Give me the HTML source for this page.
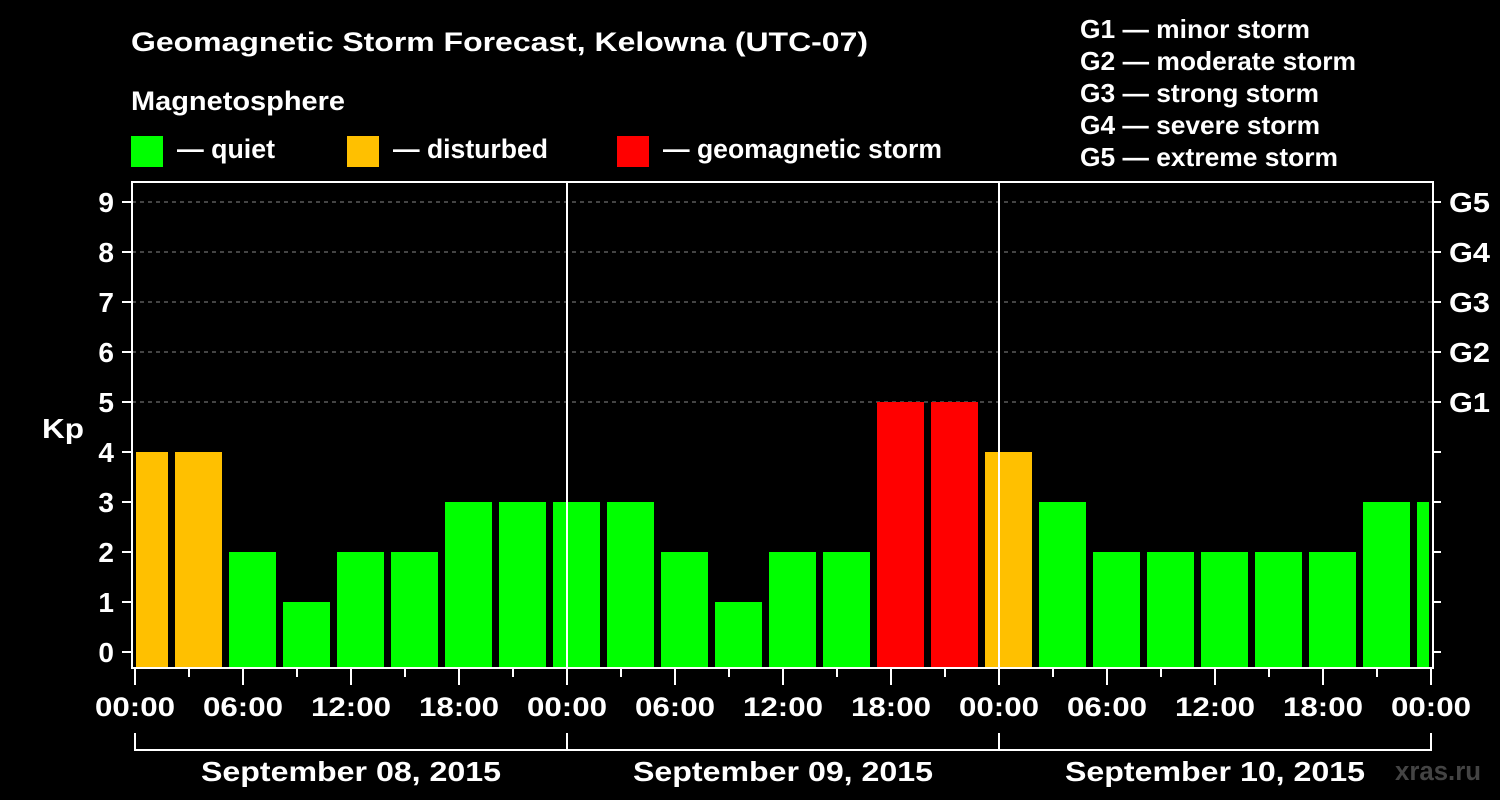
<!DOCTYPE html>
<html><head><meta charset="utf-8"><style>
body{margin:0;background:#000;width:1500px;height:800px;overflow:hidden}
svg{display:block;font-family:"Liberation Sans",sans-serif;font-weight:bold;fill:#fff}
</style></head><body>
<svg id="c" width="1500" height="800">
<text x="131" y="51" font-size="27" textLength="737" lengthAdjust="spacingAndGlyphs">Geomagnetic Storm Forecast, Kelowna (UTC-07)</text>
<text x="131" y="110" font-size="27" textLength="214" lengthAdjust="spacingAndGlyphs">Magnetosphere</text>
<g><rect x="131" y="136" width="32" height="31" fill="#00ff00"/><text x="177" y="158" font-size="27" textLength="98" lengthAdjust="spacingAndGlyphs">— quiet</text></g>
<g><rect x="347" y="136" width="32" height="31" fill="#ffc000"/><text x="393" y="158" font-size="27" textLength="155" lengthAdjust="spacingAndGlyphs">— disturbed</text></g>
<g><rect x="617" y="136" width="32" height="31" fill="#ff0000"/><text x="663" y="158" font-size="27" textLength="279" lengthAdjust="spacingAndGlyphs">— geomagnetic storm</text></g>
<g font-size="26">
<text x="1080" y="38" textLength="230" lengthAdjust="spacingAndGlyphs">G1 — minor storm</text><text x="1080" y="70" textLength="276" lengthAdjust="spacingAndGlyphs">G2 — moderate storm</text><text x="1080" y="102" textLength="239" lengthAdjust="spacingAndGlyphs">G3 — strong storm</text><text x="1080" y="134" textLength="240" lengthAdjust="spacingAndGlyphs">G4 — severe storm</text><text x="1080" y="166" textLength="258" lengthAdjust="spacingAndGlyphs">G5 — extreme storm</text></g>
<text x="42" y="438" font-size="28" textLength="42" lengthAdjust="spacingAndGlyphs">Kp</text>
<g id="grid"></g><g id="bars"></g><g id="axes"></g>
<text x="1395" y="780" font-size="27" textLength="86" lengthAdjust="spacingAndGlyphs" style="fill:#444">xras.ru</text>
</svg>
<script>
const kpValues=[4,4,2,1,2,2,3,3,3,3,2,1,2,2,5,5,4,3,2,2,2,2,2,3,3];
const yTicks=[0,1,2,3,4,5,6,7,8,9];
const gLabels=["G1","G2","G3","G4","G5"];
const timeLabels=["00:00","06:00","12:00","18:00","00:00","06:00","12:00","18:00","00:00","06:00","12:00","18:00","00:00"];
const dayLabels=["September 08, 2015","September 09, 2015","September 10, 2015"];
const NS="http://www.w3.org/2000/svg";
const L=132,R=1433,T=182,B=668,X0=135,HPX=18;
const y=v=>652-50*v, x=h=>X0+h*HPX;
function mk(tag,attrs,parent,text){const e=document.createElementNS(NS,tag);for(const k in attrs)e.setAttribute(k,attrs[k]);if(text!=null)e.textContent=text;document.getElementById(parent).appendChild(e);return e;}
yTicks.forEach(v=>{if(v>=5){const g=mk('line',{x1:L,x2:R,y1:y(v),y2:y(v),stroke:'#888','stroke-dasharray':'4,4','stroke-width':1},'grid');

}});
kpValues.forEach((v,i)=>{const x1=Math.max(x(3*i)-14,L+4),x2=Math.min(x(3*i)+33,R-4);const col=v>=5?'#ff0000':v>=4?'#ffc000':'#00ff00';
const r=mk('rect',{x:x1,y:y(v),width:x2-x1,height:B-y(v),fill:col},'bars');

});
mk('rect',{x:L,y:T,width:R-L,height:B-T,fill:'none',stroke:'#fff','stroke-width':2},'axes');
[1,2].forEach(d=>mk('line',{x1:x(24*d),x2:x(24*d),y1:T,y2:B,stroke:'#fff','stroke-width':2},'axes'));
yTicks.forEach(v=>{mk('line',{x1:L-10,x2:L,y1:y(v),y2:y(v),stroke:'#fff','stroke-width':2},'axes');mk('line',{x1:R,x2:R+8,y1:y(v),y2:y(v),stroke:'#fff','stroke-width':2},'axes');
const t=mk('text',{x:L-18,y:y(v)+10,'font-size':28,'text-anchor':'end'},'axes',v);

});
gLabels.forEach((g,i)=>{const t=mk('text',{x:1449,y:y(5+i)+10,'font-size':28,textLength:41,lengthAdjust:'spacingAndGlyphs'},'axes',g);

});
for(let h=0;h<=72;h+=3){mk('line',{x1:x(h),x2:x(h),y1:B,y2:B+(h%6==0?17:9),stroke:'#fff','stroke-width':2},'axes');}
timeLabels.forEach((s,i)=>{const t=mk('text',{x:x(6*i)-40,y:716,'font-size':27,textLength:80,lengthAdjust:'spacingAndGlyphs'},'axes',s);

});
mk('path',{d:`M${x(0)} 733V750H${x(72)}V733M${x(24)} 733V750M${x(48)} 733V750`,stroke:'#fff','stroke-width':2,fill:'none'},'axes');
dayLabels.forEach((s,i)=>{const t=mk('text',{x:x(24*i+12)-150,y:781,'font-size':28,textLength:300,lengthAdjust:'spacingAndGlyphs'},'axes',s);

});
</script>
</body></html>
